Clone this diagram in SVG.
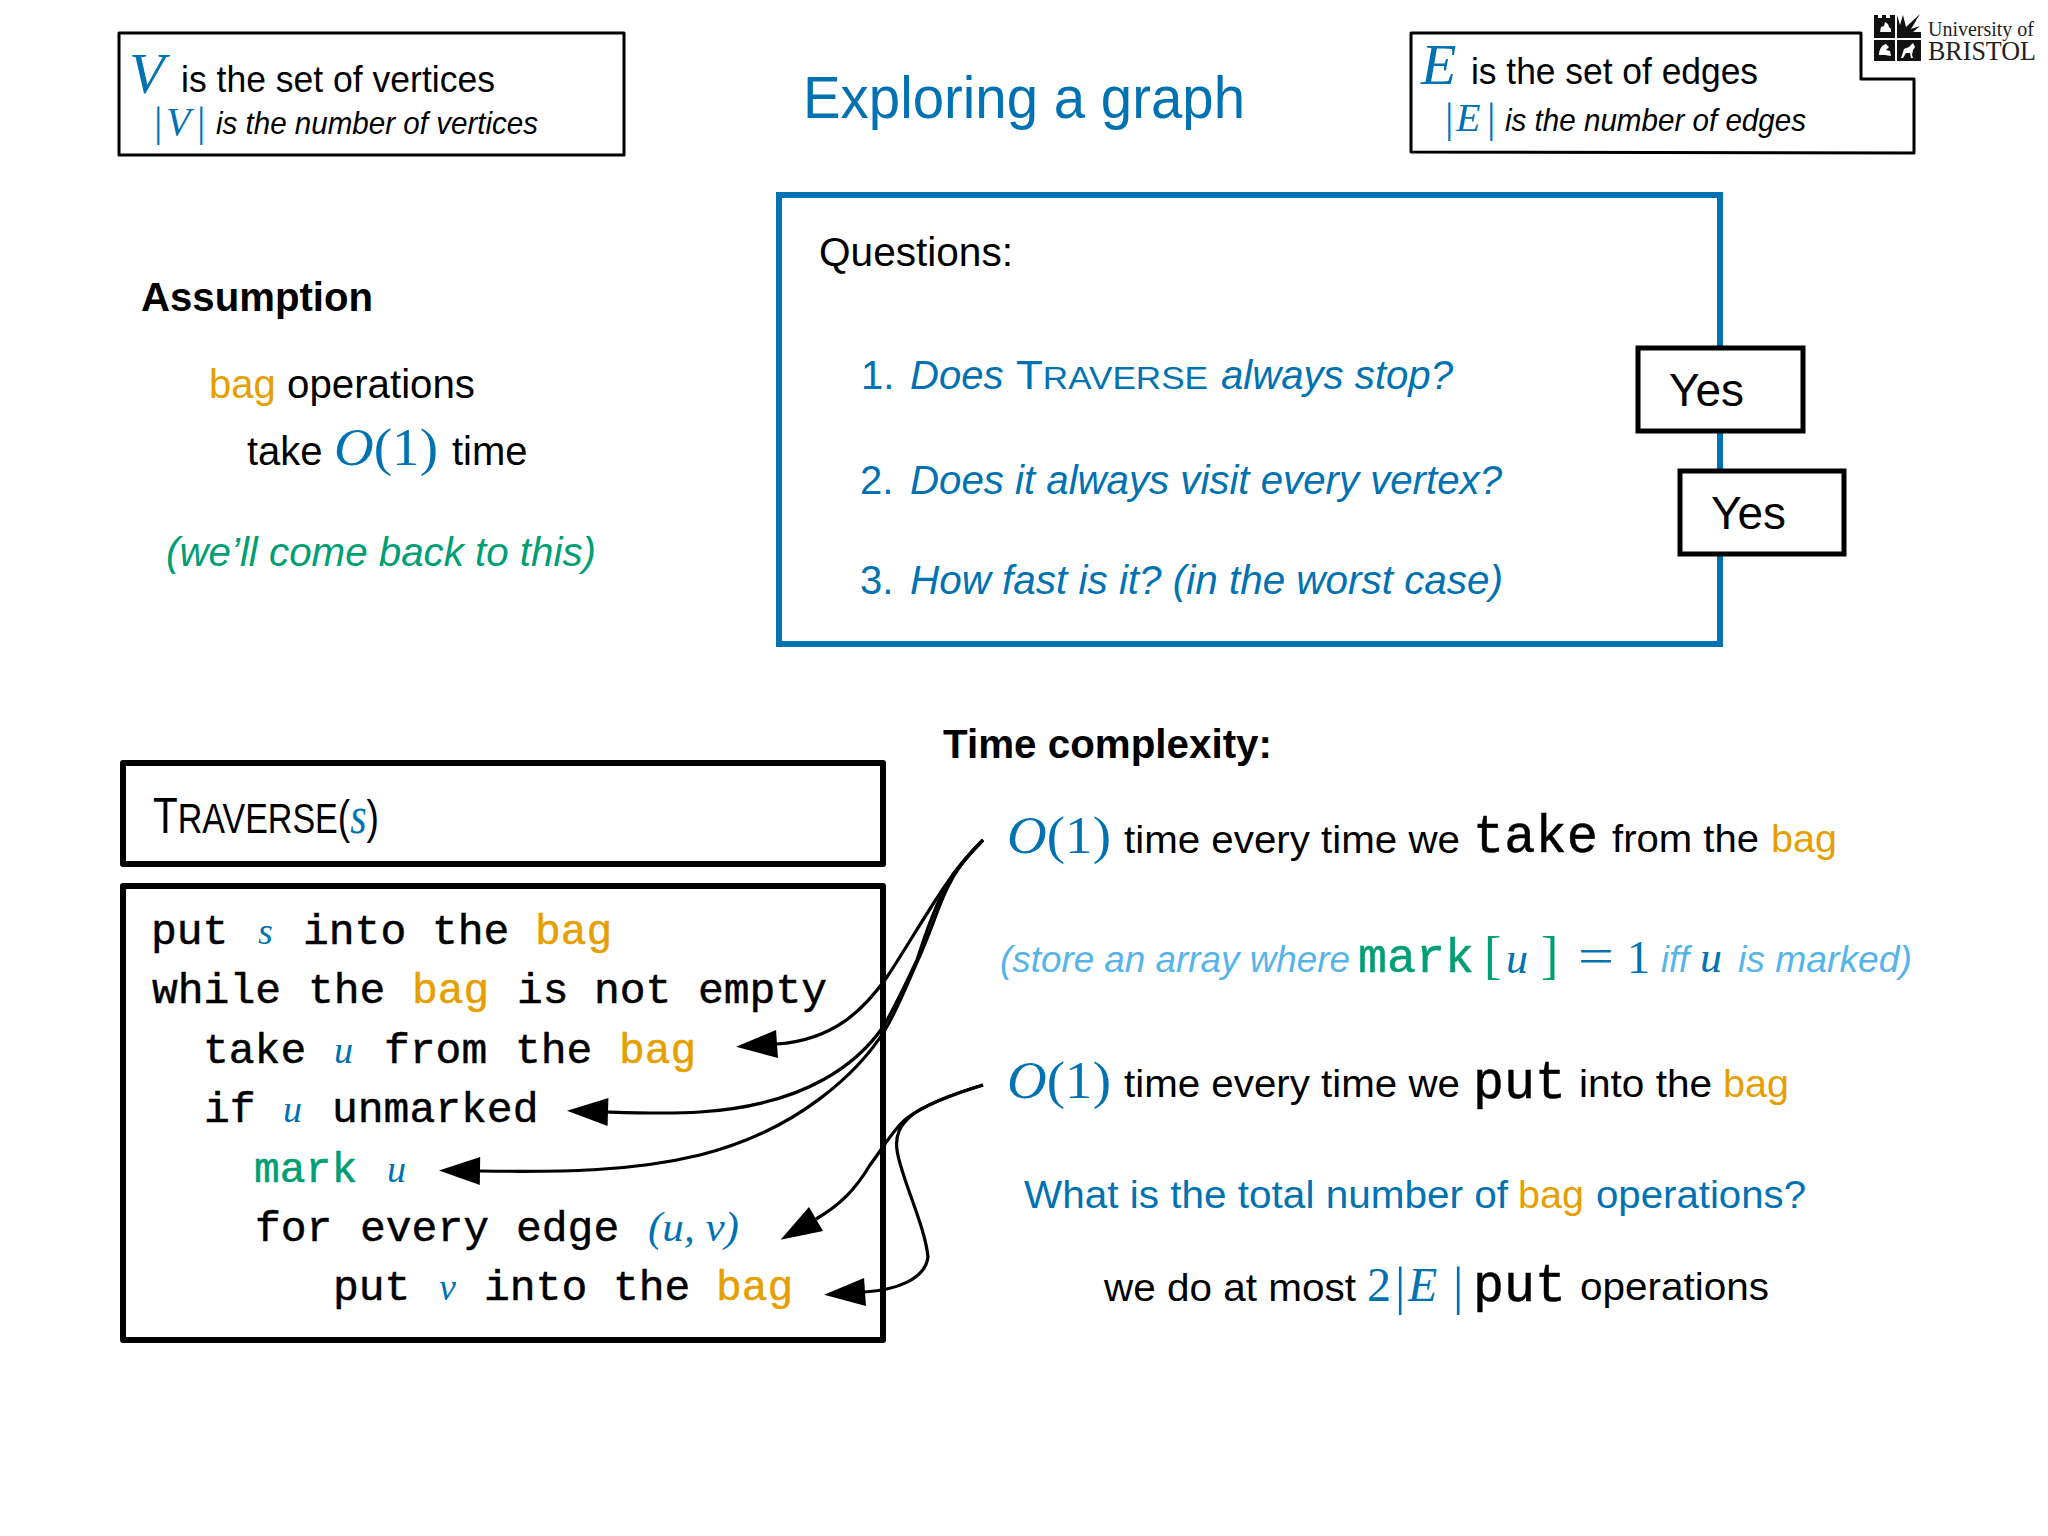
<svg xmlns="http://www.w3.org/2000/svg" width="2048" height="1536" viewBox="0 0 2048 1536">
<style>
text{font-family:"Liberation Sans",Arial,sans-serif;font-size:38px;fill:#000;white-space:pre}
.i{font-style:italic}
.b{font-weight:700}
.m{font-family:"Liberation Serif","Times New Roman",serif;fill:#0072B2}
.mi{font-family:"Liberation Serif","Times New Roman",serif;font-style:italic;fill:#0072B2}
.t{font-family:"Liberation Mono","Courier New",monospace;font-size:43px;stroke:#000;stroke-width:.5}
.t.o{stroke:#E69F00}.t.g{stroke:#009E73}
.u{fill:#0072B2}.o{fill:#E69F00}.g{fill:#009E73}.l{fill:#56B4E9}
.box{fill:#fff;stroke:#000;stroke-width:3;stroke-linejoin:round}
.hbox{fill:#fff;stroke:#000;stroke-width:6;stroke-linejoin:round}
.ybox{fill:#fff;stroke:#000;stroke-width:5}
.c{fill:none;stroke:#000;stroke-width:3.2}
.lg{font-family:"Liberation Serif","Times New Roman",serif;fill:#222}
</style>
<defs>
<marker id="ah" markerUnits="userSpaceOnUse" markerWidth="42" markerHeight="32" refX="0" refY="16" orient="auto" overflow="visible"><path d="M0 2L41 16L0 30Z" fill="#000"/></marker>
</defs>
<rect width="2048" height="1536" fill="#fff"/>

<g id="vertices">
<rect class="box" x="119" y="33" width="505" height="122"/>
<text class="mi" x="129" y="93" style="font-size:58px">V</text>
<text x="181" y="92" textLength="314" lengthAdjust="spacingAndGlyphs" style="font-size:37px">is the set of vertices</text>
<text class="m" x="154" y="136" style="font-size:42px">|</text>
<text class="mi" x="166" y="135" style="font-size:40px">V</text>
<text class="m" x="197" y="136" style="font-size:42px">|</text>
<text class="i" x="216" y="134" textLength="322" lengthAdjust="spacingAndGlyphs" style="font-size:32px">is the number of vertices</text>
</g>

<g id="title"><text class="u" x="803" y="118" textLength="442" lengthAdjust="spacingAndGlyphs" style="font-size:60px">Exploring a graph</text></g>

<g id="edges">
<path class="box" d="M1411 33H1861V79H1914V153L1411 152Z"/>
<text class="mi" x="1421" y="84" style="font-size:58px">E</text>
<text x="1471" y="84" textLength="287" lengthAdjust="spacingAndGlyphs" style="font-size:37px">is the set of edges</text>
<text class="m" x="1445" y="132" style="font-size:42px">|</text>
<text class="mi" x="1456" y="131" style="font-size:40px">E</text>
<text class="m" x="1487" y="132" style="font-size:42px">|</text>
<text class="i" x="1505" y="131" textLength="301" lengthAdjust="spacingAndGlyphs" style="font-size:32px">is the number of edges</text>
</g>

<g id="logo">
<path d="M1874 15h4v3h4v-3h4v3h4v-3h5v23h-21z" fill="#111"/>
<path d="M1897 15l3 10 3-10 3 12 14-13-9 15 9-3-7 6h8v6h-24z" fill="#111"/>
<rect x="1874" y="40" width="21" height="21" fill="#111"/>
<rect x="1897" y="40" width="24" height="21" fill="#111"/>
<path d="M1880 32l1-5 3-1 1-4 3 2 1 3 2 2v3z" fill="#fff"/>
<path d="M1879 55c0-6 3-10 7-11l3 3-3 3 4 1 1 5-6-1z" fill="#fff"/>
<path d="M1901 58l3-9 5-2 4-4 2 4-2 3-1 5 1 3h-2l-1-5h-4l-3 5z" fill="#fff"/>
<text class="lg" x="1928" y="36" textLength="106" lengthAdjust="spacingAndGlyphs" style="font-size:22px">University of</text>
<text class="lg" x="1928" y="60" textLength="108" lengthAdjust="spacingAndGlyphs" style="font-size:28px">BRISTOL</text>
</g>

<g id="assumption">
<text class="b" x="141" y="311" textLength="232" lengthAdjust="spacingAndGlyphs" style="font-size:40px">Assumption</text>
<text class="o" x="209" y="398" style="font-size:40px">bag</text>
<text x="287" y="398" textLength="188" lengthAdjust="spacingAndGlyphs" style="font-size:40px">operations</text>
<text x="247" y="465" style="font-size:40px">take</text>
<text class="m" x="334" y="465" textLength="104" lengthAdjust="spacingAndGlyphs" style="font-size:52px"><tspan class="mi">O</tspan>(1)</text>
<text x="452" y="465" style="font-size:40px">time</text>
<text class="i g" x="166" y="566" textLength="430" lengthAdjust="spacingAndGlyphs" style="font-size:40px">(we’ll come back to this)</text>
</g>

<g id="questions">
<rect x="779" y="195" width="941" height="449" fill="#fff" stroke="#0072B2" stroke-width="6"/>
<text x="819" y="266" textLength="194" lengthAdjust="spacingAndGlyphs" style="font-size:40px">Questions:</text>
<text class="u" x="861" y="389" style="font-size:40px">1.</text>
<text class="i u" x="910" y="389" style="font-size:40px">Does</text>
<text class="u" x="1016" y="389" textLength="192" lengthAdjust="spacingAndGlyphs" style="font-size:40px">T<tspan style="font-size:32px">RAVERSE</tspan></text>
<text class="i u" x="1221" y="389" textLength="232" lengthAdjust="spacingAndGlyphs" style="font-size:40px">always stop?</text>
<text class="u" x="860" y="494" style="font-size:40px">2.</text>
<text class="i u" x="910" y="494" textLength="592" lengthAdjust="spacingAndGlyphs" style="font-size:40px">Does it always visit every vertex?</text>
<text class="u" x="860" y="594" style="font-size:40px">3.</text>
<text class="i u" x="910" y="594" textLength="593" lengthAdjust="spacingAndGlyphs" style="font-size:40px">How fast is it? (in the worst case)</text>
</g>

<g id="yes1"><rect class="ybox" x="1638" y="348" width="165" height="83"/><text x="1669" y="406" textLength="75" lengthAdjust="spacingAndGlyphs" style="font-size:47px">Yes</text></g>
<g id="yes2"><rect class="ybox" x="1680" y="471" width="164" height="83"/><text x="1711" y="529" textLength="75" lengthAdjust="spacingAndGlyphs" style="font-size:47px">Yes</text></g>

<g id="traverse-head">
<rect class="hbox" x="123" y="763" width="760" height="101"/>
<text transform="translate(153 833) scale(.81 1)" x="0" y="0" style="font-size:50px">T<tspan style="font-size:42px">RAVERSE</tspan><tspan style="font-size:46px">(</tspan><tspan class="mi" style="font-size:52px">s</tspan><tspan style="font-size:46px">)</tspan></text>
</g>

<g id="traverse-body">
<rect class="hbox" x="123" y="886" width="760" height="454"/>
<text class="t" x="151" y="944">put</text><text class="mi" x="258" y="944" style="font-size:38px">s</text><text class="t" x="303" y="944">into</text><text class="t" x="432" y="944">the</text><text class="t o" x="535" y="944">bag</text>
<text class="t" x="152" y="1003">while</text><text class="t" x="308" y="1003">the</text><text class="t o" x="412" y="1003">bag</text><text class="t" x="517" y="1003">is</text><text class="t" x="594" y="1003">not</text><text class="t" x="698" y="1003">empty</text>
<text class="t" x="203" y="1063">take</text><text class="mi" x="334" y="1063" style="font-size:38px">u</text><text class="t" x="384" y="1063">from</text><text class="t" x="515" y="1063">the</text><text class="t o" x="619" y="1063">bag</text>
<text class="t" x="204" y="1122">if</text><text class="mi" x="283" y="1122" style="font-size:38px">u</text><text class="t" x="332" y="1122">unmarked</text>
<text class="t g" x="254" y="1182">mark</text><text class="mi" x="387" y="1182" style="font-size:38px">u</text>
<text class="t" x="255" y="1241">for</text><text class="t" x="360" y="1241">every</text><text class="t" x="516" y="1241">edge</text><text class="mi" x="648" y="1241" textLength="91" lengthAdjust="spacingAndGlyphs" style="font-size:42px"><tspan class="m">(</tspan>u<tspan class="m">,</tspan> v<tspan class="m">)</tspan></text>
<text class="t" x="333" y="1300">put</text><text class="mi" x="439" y="1300" style="font-size:38px">v</text><text class="t" x="484" y="1300">into</text><text class="t" x="613" y="1300">the</text><text class="t o" x="716" y="1300">bag</text>
</g>

<g id="complexity">
<text class="b" x="943" y="758" textLength="329" lengthAdjust="spacingAndGlyphs" style="font-size:40px">Time complexity:</text>
<text class="m" x="1007" y="853" textLength="104" lengthAdjust="spacingAndGlyphs" style="font-size:52px"><tspan class="mi">O</tspan>(1)</text>
<text x="1124" y="853" textLength="336" lengthAdjust="spacingAndGlyphs">time every time we</text>
<text class="t" x="1473" y="852" textLength="125" lengthAdjust="spacingAndGlyphs" style="font-size:53px">take</text>
<text x="1612" y="852" textLength="147" lengthAdjust="spacingAndGlyphs">from the</text>
<text class="o" x="1771" y="852" textLength="66" lengthAdjust="spacingAndGlyphs">bag</text>

<text class="i l" x="1000" y="972" textLength="350" lengthAdjust="spacingAndGlyphs" style="font-size:36px">(store an array where</text>
<text class="t g" x="1358" y="972" textLength="116" lengthAdjust="spacingAndGlyphs" style="font-size:48px">mark</text>
<text class="m g" x="1484" y="973" style="font-size:52px">[</text>
<text class="mi" x="1506" y="973" style="font-size:44px">u</text>
<text class="m g" x="1541" y="973" style="font-size:52px">]</text>
<text class="m" x="1578" y="973" textLength="36" lengthAdjust="spacingAndGlyphs" style="font-size:50px">=</text>
<text class="m" x="1627" y="973" style="font-size:46px">1</text>
<text class="i l" x="1661" y="972" style="font-size:36px">iff</text>
<text class="mi" x="1700" y="972" style="font-size:44px">u</text>
<text class="i l" x="1738" y="972" textLength="174" lengthAdjust="spacingAndGlyphs" style="font-size:36px">is marked)</text>

<text class="m" x="1007" y="1098" textLength="104" lengthAdjust="spacingAndGlyphs" style="font-size:52px"><tspan class="mi">O</tspan>(1)</text>
<text x="1124" y="1097" textLength="336" lengthAdjust="spacingAndGlyphs">time every time we</text>
<text class="t" x="1473" y="1098" textLength="93" lengthAdjust="spacingAndGlyphs" style="font-size:53px">put</text>
<text x="1579" y="1097" textLength="133" lengthAdjust="spacingAndGlyphs">into the</text>
<text class="o" x="1723" y="1097" textLength="66" lengthAdjust="spacingAndGlyphs">bag</text>

<text class="u" x="1024" y="1208" textLength="484" lengthAdjust="spacingAndGlyphs">What is the total number of</text>
<text class="o" x="1518" y="1208" textLength="66" lengthAdjust="spacingAndGlyphs">bag</text>
<text class="u" x="1596" y="1208" textLength="210" lengthAdjust="spacingAndGlyphs">operations?</text>

<text x="1104" y="1301" textLength="252" lengthAdjust="spacingAndGlyphs">we do at most</text>
<text class="m" x="1367" y="1301" style="font-size:48px">2</text>
<text class="m" x="1395" y="1304" style="font-size:52px">|</text>
<text class="mi" x="1408" y="1301" style="font-size:48px">E</text>
<text class="m" x="1453" y="1304" style="font-size:52px">|</text>
<text class="t" x="1473" y="1301" textLength="93" lengthAdjust="spacingAndGlyphs" style="font-size:53px">put</text>
<text x="1580" y="1300" textLength="189" lengthAdjust="spacingAndGlyphs">operations</text>
</g>

<g id="connectors">
<path class="c" marker-end="url(#ah)" d="M983 840C970 853 958 866 947 883C925 915 905 950 887 977C865 1008 835 1040 777 1044"/>
<path class="c" marker-end="url(#ah)" d="M983 840C965 858 955 872 947 885C935 905 925 935 917 960C905 985 895 1007 883 1027C860 1060 810 1105 700 1112C670 1114 640 1113 608 1112"/>
<path class="c" marker-end="url(#ah)" d="M983 840C965 858 955 872 950 883C940 900 930 935 917 962C905 990 897 1010 885 1030C860 1070 800 1130 700 1155C630 1172 560 1172 480 1171"/>
<path class="c" marker-end="url(#ah)" d="M983 1085C950 1095 925 1105 907 1118C895 1127 885 1145 870 1165C855 1190 840 1205 816 1219"/>
<path class="c" marker-end="url(#ah)" d="M983 1085C950 1095 925 1105 912 1115C900 1125 895 1135 897 1150C900 1175 925 1225 928 1257C925 1280 895 1290 865 1292"/>
</g>
</svg>
